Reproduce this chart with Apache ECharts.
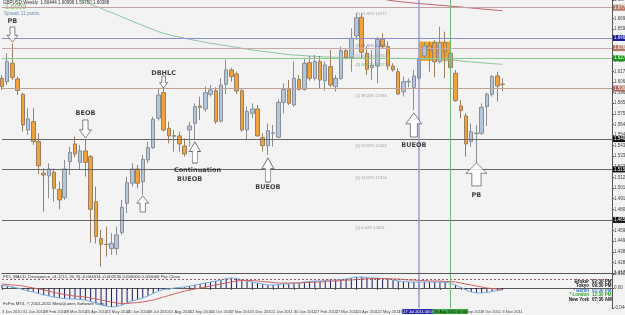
<!DOCTYPE html>
<html><head><meta charset="utf-8">
<script src="https://cdn.jsdelivr.net/npm/echarts@6/dist/echarts.min.js"></script>
<style>html,body{margin:0;padding:0;background:#f3f3f3}#c{width:625px;height:315px}</style>
</head><body><div id="c"></div>
<script>
// ---- data (GBPUSD weekly, 3 Jan 2010 .. 6 Nov 2011) ----
const opens = [1.6101,1.6068,1.6250,1.6095,1.5943,1.5590,1.5673,1.5475,1.5162,1.5135,
1.5171,1.5003,1.4921,1.5277,1.5452,1.5270,1.5383,1.5326,1.4881,1.4515,
1.4459,1.4416,1.4416,1.4575,1.4865,1.5063,1.5204,1.5079,1.5293,1.5415,
1.5706,1.5959,1.5607,1.5534,1.5531,1.5432,1.5590,1.5656,1.5828,1.5798,
1.5943,1.5979,1.5679,1.6042,1.6184,1.6144,1.5979,1.5590,1.5755,1.5798,
1.5514,1.5435,1.5558,1.5518,1.5864,1.5992,1.5837,1.6091,1.5992,1.6256,
1.6101,1.6266,1.6078,1.6217,1.6019,1.6101,1.6375,1.6309,1.6520,1.6705,
1.6349,1.6207,1.6223,1.6487,1.6414,1.6223,1.6167,1.5969,1.6065,1.6012,
1.6101,1.6322,1.6421,1.6454,1.6266,1.6454,1.6349,1.6151,1.5828,1.5729,
1.5475,1.5554,1.5557,1.5821,1.5943,1.6124,1.6044];
const highs = [1.6134,1.6349,1.6447,1.6118,1.5959,1.5805,1.5805,1.5557,1.5211,1.5261,
1.5211,1.5079,1.5293,1.5425,1.5524,1.5442,1.5491,1.5343,1.5030,1.4601,
1.4634,1.4568,1.4634,1.4898,1.5129,1.5261,1.5244,1.5343,1.5475,1.5722,
1.6002,1.6012,1.5673,1.5590,1.5574,1.5508,1.5673,1.5854,1.5920,1.6019,
1.6035,1.6012,1.6101,1.6289,1.6207,1.6167,1.6002,1.5821,1.5854,1.5837,
1.5557,1.5656,1.5640,1.5894,1.6052,1.6085,1.6266,1.6134,1.6299,1.6322,
1.6332,1.6322,1.6266,1.6381,1.6134,1.6414,1.6398,1.6596,1.6744,1.6744,
1.6414,1.6381,1.6513,1.6546,1.6464,1.6250,1.6200,1.6118,1.6101,1.6184,
1.6316,1.6464,1.6464,1.6480,1.6612,1.6563,1.6365,1.6184,1.5887,1.5755,
1.5656,1.5640,1.5854,1.5959,1.6134,1.6167,1.6100];
const lows = [1.5986,1.6035,1.6085,1.5936,1.5574,1.5541,1.5442,1.5155,1.4782,1.4914,
1.4881,1.4806,1.4898,1.5145,1.5320,1.5195,1.5129,1.4476,1.4469,1.4238,
1.4337,1.4354,1.4354,1.4552,1.4766,1.5030,1.5013,1.4947,1.5261,1.5402,
1.5683,1.5574,1.5458,1.5376,1.5376,1.5326,1.5425,1.5491,1.5689,1.5772,
1.5920,1.5650,1.5663,1.5946,1.6068,1.5946,1.5574,1.5491,1.5706,1.5524,
1.5376,1.5343,1.5425,1.5508,1.5755,1.5837,1.5821,1.5979,1.5979,1.6078,
1.6078,1.6002,1.5979,1.6012,1.5969,1.6085,1.6289,1.6167,1.6480,1.6299,
1.6134,1.6085,1.6052,1.6398,1.6184,1.6167,1.5936,1.5920,1.6012,1.5788,
1.6085,1.6299,1.6167,1.6111,1.6250,1.6101,1.6200,1.5870,1.5706,1.5326,
1.5425,1.5261,1.5541,1.5630,1.5920,1.5870,1.5975];
const closes = [1.6019,1.6266,1.6111,1.5979,1.5640,1.5699,1.5475,1.5237,1.5145,1.5204,
1.5013,1.4898,1.5204,1.5369,1.5353,1.5383,1.5270,1.4806,1.4535,1.4459,
1.4456,1.4469,1.4552,1.4825,1.5069,1.5204,1.5063,1.5300,1.5415,1.5696,
1.5936,1.5590,1.5531,1.5528,1.5452,1.5353,1.5630,1.5821,1.5814,1.5959,
1.5986,1.5673,1.6035,1.6184,1.6118,1.5976,1.5590,1.5772,1.5798,1.5531,
1.5435,1.5584,1.5562,1.5864,1.5992,1.5854,1.6101,1.5992,1.6250,1.6101,
1.6266,1.6085,1.6233,1.6035,1.6101,1.6375,1.6309,1.6497,1.6701,1.6358,
1.6190,1.6227,1.6487,1.6414,1.6223,1.6184,1.5946,1.6068,1.6072,1.6124,
1.6289,1.6421,1.6381,1.6266,1.6454,1.6365,1.6207,1.5880,1.5781,1.5452,
1.5574,1.5560,1.5814,1.5943,1.6118,1.6025,1.6039];
// slow moving average (green), from week 14
const maSlow = [null,null,null,null,null,null,null,null,null,null,null,null,null,null,1.6905,
1.6876,1.6853,1.6836,1.6813,1.6794,1.6770,1.6751,1.6731,1.6708,1.6688,
1.6665,1.6645,1.6625,1.6602,1.6583,1.6563,1.6546,1.6533,1.6520,1.6510,
1.6497,1.6487,1.6477,1.6467,1.6457,1.6447,1.6441,1.6431,1.6424,1.6414,
1.6408,1.6398,1.6391,1.6381,1.6375,1.6368,1.6362,1.6355,1.6349,1.6342,
1.6335,1.6332,1.6329,1.6325,1.6322,1.6319,1.6316,1.6312,1.6312,1.6309,
1.6309,1.6306,1.6306,1.6302,1.6302,1.6302,1.6299,1.6299,1.6299,1.6299,
1.6299,1.6299,1.6299,1.6296,1.6296,1.6296,1.6292,1.6292,1.6289,1.6289,
1.6286,1.6283,1.6279,1.6273,1.6266,1.6263,1.6260,1.6256,1.6250,1.6246,
1.6243,1.6240];
// long moving average (red), from week 73
const maLong = [null,null,null,null,null,null,null,null,null,null,null,null,null,null,null,null,null,null,null,null,
null,null,null,null,null,null,null,null,null,null,null,null,null,null,null,null,null,null,null,null,
null,null,null,null,null,null,null,null,null,null,null,null,null,null,null,null,null,null,null,null,
null,null,null,null,null,null,null,null,null,null,null,null,null,
1.6885,1.6876,1.6868,1.6861,1.6856,1.6851,1.6846,1.6841,1.6837,1.6832,1.6828,1.6824,
1.6820,1.6815,1.6811,1.6807,1.6802,1.6797,1.6792,1.6787,1.6783,1.6779,1.6774,1.6770];
// MACD panel
const macdHist = [0.0066,0.0044,0.0022,0,-0.0033,-0.0066,-0.0088,-0.0121,-0.0154,-0.0176,
-0.0198,-0.022,-0.0231,-0.0242,-0.0242,-0.0253,-0.0264,-0.0297,-0.033,-0.0374,
-0.0396,-0.0418,-0.0407,-0.0374,-0.033,-0.0286,-0.0253,-0.022,-0.0176,-0.0121,
-0.0066,-0.0033,-0.0022,0,0.0011,0.0022,0.0044,0.0066,0.0088,0.011,
0.0132,0.0154,0.0176,0.0209,0.022,0.0209,0.0176,0.0154,0.0132,0.011,
0.0088,0.0066,0.0066,0.0077,0.0088,0.0088,0.011,0.011,0.0132,0.0143,
0.0154,0.0154,0.0165,0.0176,0.0176,0.0187,0.0198,0.022,0.0242,0.0242,
0.0231,0.022,0.022,0.0209,0.0198,0.0176,0.0154,0.0143,0.0132,0.0132,
0.0132,0.0132,0.0132,0.0132,0.0132,0.0121,0.011,0.0066,0.0011,-0.0044,
-0.0088,-0.011,-0.011,-0.0099,-0.0077,-0.0055,-0.0044];
const macdSignal = [0.0088,0.0077,0.0066,0.0055,0.0044,0.0022,0,-0.0022,-0.0044,-0.0066,
-0.0099,-0.0121,-0.0143,-0.0165,-0.0176,-0.0187,-0.0198,-0.022,-0.0242,-0.0264,
-0.0286,-0.0308,-0.033,-0.0341,-0.0341,-0.033,-0.0319,-0.0308,-0.0286,-0.0264,
-0.0231,-0.0198,-0.0165,-0.0132,-0.0099,-0.0066,-0.0044,-0.0022,0,0.0022,
0.0044,0.0066,0.0088,0.011,0.0132,0.0154,0.0165,0.0165,0.0165,0.0154,
0.0143,0.0132,0.0121,0.011,0.011,0.011,0.011,0.011,0.0121,0.0121,
0.0132,0.0132,0.0143,0.0154,0.0154,0.0165,0.0176,0.0176,0.0187,0.0198,
0.0198,0.0209,0.0209,0.0209,0.0209,0.0198,0.0198,0.0187,0.0176,0.0176,
0.0165,0.0165,0.0154,0.0154,0.0154,0.0143,0.0143,0.0132,0.011,0.0088,
0.0066,0.0044,0.0022,0,-0.0011,-0.0022,-0.0033];
const tickLabels = ['3 Jan 2010','31 Jan 2010','28 Feb 2010','28 Mar 2010','25 Apr 2010','23 May 2010',
'20 Jun 2010','18 Jul 2010','15 Aug 2010','12 Sep 2010','10 Oct 2010','7 Nov 2010','5 Dec 2010',
'2 Jan 2011','30 Jan 2011','27 Feb 2011','27 Mar 2011','24 Apr 2011','22 May 2011','19 Jun 2011',
'17 Jul 2011','14 Aug 2011','11 Sep 2011','9 Oct 2011','6 Nov 2011'];
// horizontal levels: [price, line colour, right-axis box colour]
const levelPrices = [1.6777,1.6461,1.6362,1.6273,1.5966,1.5462,1.5155,1.4651];
const levelColors = ['#c4a0a0','#8c8cd0','#c8a8a8','#8cc88c','#c0a090','#666666','#666666','#666666'];
const levelBoxes  = ['#b07868','#1c1ca0','#b07868','#1a9a1a','#b06858','#111111','#111111','#111111'];
const fibTexts = ['(1) 61.80% 1.6777','(2) 61.80% 1.6461','(1) 50.00% 1.6362','(2) 50.00% 1.6273',
'(1) 38.20% 1.5966','(1) 23.60% 1.5462','(1) 14.60% 1.5155','(1) 0.00% 1.4651'];
const fibTextColors = ['#888','#6a6ab0','#888','#5a9a5a','#888','#888','#888','#888'];
const bidPrice = 1.6059;
// annotations
const arrowIdx   = [2, 16, 31, 37, 27, 51, 79, 91];
const arrowPrice = [1.6460, 1.5511, 1.6005, 1.5471, 1.4937, 1.5313, 1.5758, 1.5264];
const arrowDir   = ['down','down','down','up','up','up','up','up'];
const arrowW     = [11, 12, 8, 11, 12, 12, 16, 21];
const arrowH     = [15, 18, 12, 21, 16, 24, 24, 23];
const noteIdx    = [2, 16, 31, 38, 36, 51, 79, 91];
const notePrice  = [1.6668, 1.5758, 1.6154, 1.5194, 1.5105, 1.5026, 1.5442, 1.4947];
const noteText   = ['PB','BEOB','DBHLC','Continuation','BUEOB','BUEOB','BUEOB','PB'];
const boxFrom = 80, boxTo = 86, boxTop = 1.6464, boxBottom = 1.6273;
const vBlue = 80, vGreen = 86;

// ---- build ----
const NCAT = 118;
const categories = [];
for (let k = 0; k < NCAT; k++) {
  const d = new Date(Date.UTC(2010, 0, 3 + 7 * k));
  categories.push(d.toISOString().slice(0, 10));
}
const candles = opens.map((o, i) => [o, closes[i], lows[i], highs[i]]);
const upPath = 'path://M50,0 L100,45 L72,45 L72,100 L28,100 L28,45 L0,45 Z';
const downPath = 'path://M28,0 L72,0 L72,55 L100,55 L50,100 L0,55 L28,55 Z';

const arrows = arrowIdx.map((ix, k) => ({
  value: [categories[ix], arrowPrice[k]],
  symbol: arrowDir[k] === 'up' ? upPath : downPath,
  symbolSize: [arrowW[k], arrowH[k]],
  symbolOffset: [0, arrowDir[k] === 'up' ? arrowH[k] / 2 : -arrowH[k] / 2]
}));
const notes = noteIdx.map((ix, k) => ({
  value: [categories[ix], notePrice[k]],
  label: { formatter: noteText[k], offset: noteText[k] === 'Continuation' ? [-2.6, 0] : [0, 0] }
}));
const fibNotes = levelPrices.map((p, k) => ({
  value: [categories[68], p],
  label: { formatter: fibTexts[k], color: fibTextColors[k] }
}));

const hLines = levelPrices.map((p, k) => ({
  yAxis: p,
  lineStyle: { color: levelColors[k], width: 1, type: 'solid' },
  label: { show: true, position: 'end', distance: 1, formatter: p.toFixed(4), backgroundColor: levelBoxes[k],
           color: '#fff', fontSize: 4.5, padding: [0.5, 1] }
}));
hLines.push({
  yAxis: bidPrice, lineStyle: { opacity: 0 },
  label: { show: true, position: 'end', distance: 1, formatter: bidPrice.toFixed(4), backgroundColor: '#111',
           color: '#fff', fontSize: 4.5, padding: [0.5, 1] }
});
hLines.push({ xAxis: categories[vBlue], lineStyle: { color: '#9a9ad6', width: 1.5, type: 'solid' }, label: { show: false } });
hLines.push({ xAxis: categories[vGreen], lineStyle: { color: '#74b474', width: 1, type: 'solid' }, label: { show: false } });

const chart = echarts.init(document.getElementById('c'), null, { renderer: 'canvas' });
const small = { fontSize: 4.5, color: '#444', fontFamily: 'Liberation Sans' };
chart.setOption({
  animation: false,
  backgroundColor: '#f3f3f3',
  grid: [
    { left: 2, right: 13, top: 0, height: 273, containLabel: false, outerBoundsMode: 'none' },
    { left: 2, right: 13, top: 274, height: 34, containLabel: false, outerBoundsMode: 'none' }
  ],
  xAxis: [
    { type: 'category', gridIndex: 0, data: categories, boundaryGap: false,
      axisLine: { show: true, lineStyle: { color: '#555', width: 1 } }, axisTick: { show: false },
      axisLabel: { show: false }, splitLine: { show: false } },
    { type: 'category', gridIndex: 1, data: categories, boundaryGap: false,
      axisLine: { show: true, lineStyle: { color: '#555', width: 1 } },
      axisTick: { show: true, length: 2, interval: (i) => i % 4 === 0 && i <= 96, lineStyle: { color: '#555' } },
      axisLabel: Object.assign({}, small, { fontSize: 4, margin: 2, align: 'left',
        interval: (i) => i % 4 === 0 && i <= 96,
        formatter: (v, i) => tickLabels[i / 4] || '' }),
      splitLine: { show: false } }
  ],
  yAxis: [
    { type: 'value', gridIndex: 0, position: 'right', min: 1.4175, max: 1.6876, interval: 0.0105, scale: true,
      axisLine: { show: true, lineStyle: { color: '#555', width: 1 } },
      axisTick: { show: true, length: 2, lineStyle: { color: '#555' } },
      axisLabel: Object.assign({}, small, { margin: 2, formatter: (v) => v.toFixed(4) }),
      splitLine: { show: false } },
    { type: 'value', gridIndex: 1, position: 'right', min: -0.044, max: 0.0308, interval: 0.044,
      axisLine: { show: true, lineStyle: { color: '#555', width: 1 } },
      axisTick: { show: true, length: 2, lineStyle: { color: '#555' } },
      axisLabel: Object.assign({}, small, { margin: 2, formatter: (v) => v === 0 ? '0.00' : v.toFixed(4) }),
      splitLine: { show: false } }
  ],
  series: [
    { name: 'levels', type: 'line', xAxisIndex: 0, yAxisIndex: 0, data: closes, z: 1, silent: true,
      symbol: 'none', lineStyle: { opacity: 0 },
      markArea: { silent: true, itemStyle: { color: '#f2a21e', opacity: 1 },
        data: [[{ coord: [categories[boxFrom], boxTop] }, { coord: [categories[boxTo], boxBottom] }]] },
      markLine: { silent: true, symbol: ['none', 'none'], data: hLines } },
    { name: 'MA slow', type: 'line', xAxisIndex: 0, yAxisIndex: 0, data: maSlow, z: 2, symbol: 'none',
      lineStyle: { color: '#8cc4a0', width: 1 } },
    { name: 'MA long', type: 'line', xAxisIndex: 0, yAxisIndex: 0, data: maLong, z: 2, symbol: 'none',
      lineStyle: { color: '#c0606e', width: 1 } },
    { name: 'GBPUSD', type: 'candlestick', xAxisIndex: 0, yAxisIndex: 0, data: candles, z: 3, barWidth: 4,
      itemStyle: { color: '#b4c6dc', color0: '#f2a23a', borderColor: '#8a8f96', borderColor0: '#9a8060', borderWidth: 1 } },
    { name: 'arrows', type: 'scatter', xAxisIndex: 0, yAxisIndex: 0, data: arrows, z: 5, silent: true,
      itemStyle: { color: '#fff', borderColor: '#444', borderWidth: 0.8 } },
    { name: 'notes', type: 'scatter', xAxisIndex: 0, yAxisIndex: 0, data: notes, z: 6, silent: true,
      symbolSize: 1, itemStyle: { color: 'rgba(0,0,0,0)' },
      label: { show: true, position: 'inside', fontSize: 6.5, fontWeight: 'bold', color: '#111', fontFamily: 'DejaVu Sans' } },
    { name: 'fib', type: 'scatter', xAxisIndex: 0, yAxisIndex: 0, data: fibNotes, z: 6, silent: true,
      symbolSize: 1, itemStyle: { color: 'rgba(0,0,0,0)' },
      label: { show: true, position: 'inside', align: 'left', verticalAlign: 'top', offset: [-1, 1.5], fontSize: 3.8, fontFamily: 'Liberation Sans' } },
    { name: 'MACD', type: 'bar', xAxisIndex: 1, yAxisIndex: 1, data: macdHist, barWidth: 1, z: 2,
      itemStyle: { color: '#1c1c5c' },
      markLine: { silent: true, symbol: ['none', 'none'], data: [
        { yAxis: 0.0242, lineStyle: { color: '#a05a5a', width: 1, type: [2, 2] }, label: { show: false } },
        { xAxis: categories[vBlue], lineStyle: { color: '#9a9ad6', width: 1.5, type: 'solid' },
          label: { show: true, position: 'start', distance: 1, formatter: '17 Jul 2011 00:00', fontSize: 4, color: '#fff',
                   backgroundColor: '#2c2ca8', padding: [0.5, 1] } },
        { xAxis: categories[vGreen], lineStyle: { color: '#74b474', width: 1, type: 'solid' },
          label: { show: true, position: 'start', distance: 1, formatter: '28 Aug 2011 00:00', fontSize: 4, color: '#111',
                   backgroundColor: '#3caa3c', padding: [0.5, 1] } }
      ] } },
    { name: 'MACD line', type: 'line', xAxisIndex: 1, yAxisIndex: 1, data: macdHist, symbol: 'none', z: 3,
      lineStyle: { color: '#78aee0', width: 1 } },
    { name: 'Signal', type: 'line', xAxisIndex: 1, yAxisIndex: 1, data: macdSignal, symbol: 'none', z: 3,
      lineStyle: { color: '#d06464', width: 1 } }
  ],
  graphic: [
    { type: 'text', x: 3, y: 0.5, style: { text: 'GBPUSD,Weekly  1.60444 1.60996 1.59750 1.60388', fontSize: 4.5, fill: '#333', fontFamily: 'Liberation Sans' } },
    { type: 'text', x: 5, y: 4, style: { text: '1.6059', fontSize: 7, fill: '#66cc33', fontFamily: 'Liberation Sans' } },
    { type: 'text', x: 4, y: 11.5, style: { text: 'Spread: 11 points.', fontSize: 4.5, fill: '#6b8cae', fontFamily: 'Liberation Sans' } },
    { type: 'text', x: 3, y: 275, style: { text: 'FX5_MACD_Divergence_v1.1(12, 26, 9) -0.004414 -0.002530 0.000000 0.000000 Pip: Close', fontSize: 4.3, fill: '#333', fontFamily: 'Liberation Sans' } },
    { type: 'text', x: 3, y: 302, style: { text: 'FxPro MT4, \u00a9 2001-2011 MetaQuotes Software Corp.', fontSize: 4.3, fill: '#333', fontFamily: 'Liberation Sans' } },
    { type: 'text', x: 589, y: 279, style: { text: 'Broker', align: 'right', fontSize: 4.5, fontWeight: 'bold', fill: '#111' } },
    { type: 'text', x: 592, y: 279, style: { text: '02:30 PM', fontSize: 4.5, fontWeight: 'bold', fill: '#111' } },
    { type: 'text', x: 589, y: 283.5, style: { text: 'Tokyo', align: 'right', fontSize: 4.5, fontWeight: 'bold', fill: '#111' } },
    { type: 'text', x: 592, y: 283.5, style: { text: '09:30 PM', fontSize: 4.5, fontWeight: 'bold', fill: '#111' } },
    { type: 'text', x: 589, y: 288, style: { text: '* Berlin', align: 'right', fontSize: 4.5, fontWeight: 'bold', fill: '#3a78c8' } },
    { type: 'text', x: 592, y: 288, style: { text: '01:30 PM', fontSize: 4.5, fontWeight: 'bold', fill: '#3a78c8' } },
    { type: 'text', x: 589, y: 292.5, style: { text: '* London', align: 'right', fontSize: 4.5, fontWeight: 'bold', fill: '#2ea02e' } },
    { type: 'text', x: 592, y: 292.5, style: { text: '12:30 PM', fontSize: 4.5, fontWeight: 'bold', fill: '#2ea02e' } },
    { type: 'text', x: 589, y: 297, style: { text: 'New York', align: 'right', fontSize: 4.5, fontWeight: 'bold', fill: '#111' } },
    { type: 'text', x: 592, y: 297, style: { text: '07:30 AM', fontSize: 4.5, fontWeight: 'bold', fill: '#111' } }
  ]
});
</script></body></html>
